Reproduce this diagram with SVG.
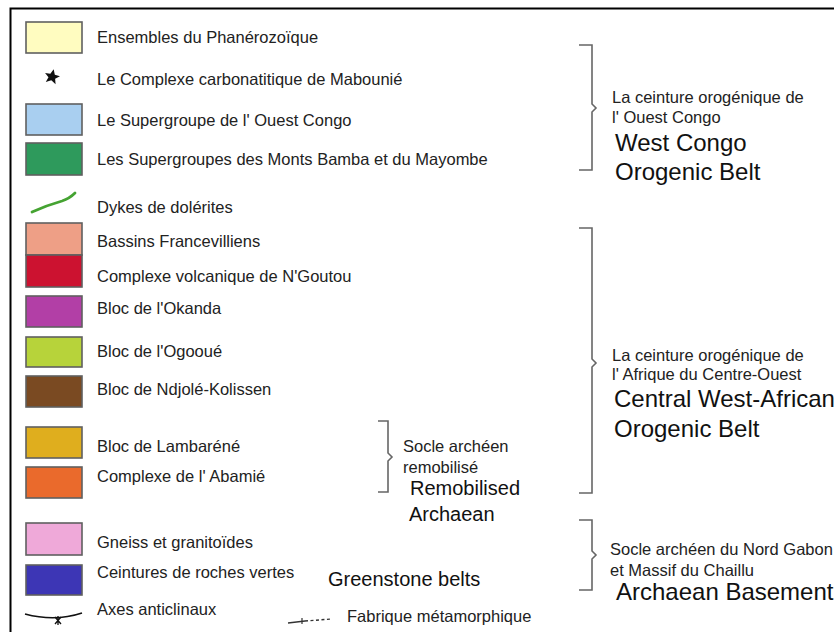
<svg xmlns="http://www.w3.org/2000/svg" width="834" height="632" viewBox="0 0 834 632">
<style>
.sw{stroke:#606060;stroke-width:1.6}
.t{font-family:"Liberation Sans",Arial,sans-serif;font-size:16.5px;fill:#222}
.big{font-family:"Liberation Sans",Arial,sans-serif;font-size:24px;fill:#111}
.mid{font-family:"Liberation Sans",Arial,sans-serif;font-size:20px;fill:#111}
.br{fill:none;stroke:#666;stroke-width:1.6}
</style>
<rect width="834" height="632" fill="#fff"/>
<path d="M10.5,632 V8.5 H834" fill="none" stroke="#000" stroke-width="2"/>

<g id="phanerozoique"><rect class="sw" x="26" y="22" width="56" height="31" fill="#fffcc0"/><text class="t" x="97" y="43">Ensembles du Phanérozoïque</text></g>
<g id="mabounie"><path d="M52,69 L54.3,74.2 L59.6,74.5 L55.4,78 L57,83.3 L52,80.4 L47,83.3 L48.6,78 L44.4,74.5 L49.7,74.2 Z" fill="#111" transform="rotate(12 52 77)"/><text class="t" x="97" y="85">Le Complexe carbonatitique de Mabounié</text></g>
<g id="ouest-congo"><rect class="sw" x="26" y="104" width="56" height="31" fill="#a9cff0"/><text class="t" x="97" y="126">Le Supergroupe de l' Ouest Congo</text></g>
<g id="bamba-mayombe"><rect class="sw" x="26" y="143" width="56" height="32" fill="#2e9a5c"/><text class="t" x="97" y="165">Les Supergroupes des Monts Bamba et du Mayombe</text></g>
<g id="dykes"><path d="M32,212 C45,206 55,203 62,201 C68,199 72,196 75,193" fill="none" stroke="#45a332" stroke-width="2.8" stroke-linecap="round"/><text class="t" x="97" y="213">Dykes de dolérites</text></g>
<g id="francevilliens"><rect class="sw" x="26" y="223" width="56" height="32" fill="#ee9f86"/><text class="t" x="97" y="247">Bassins Francevilliens</text></g>
<g id="ngoutou"><rect class="sw" x="26" y="255" width="56" height="32" fill="#cc1230"/><text class="t" x="97" y="282">Complexe volcanique de N'Goutou</text></g>
<g id="okanda"><rect class="sw" x="26" y="296" width="56" height="31" fill="#b23fa6"/><text class="t" x="97" y="314">Bloc de l'Okanda</text></g>
<g id="ogooue"><rect class="sw" x="26" y="337" width="56" height="30" fill="#b7d33a"/><text class="t" x="97" y="357">Bloc de l'Ogooué</text></g>
<g id="ndjole"><rect class="sw" x="26" y="376" width="56" height="31" fill="#7a4a22"/><text class="t" x="97" y="395">Bloc de Ndjolé-Kolissen</text></g>
<g id="lambarene"><rect class="sw" x="26" y="427" width="56" height="31" fill="#dfae1e"/><text class="t" x="97" y="452">Bloc de Lambaréné</text></g>
<g id="abamie"><rect class="sw" x="26" y="467" width="56" height="31" fill="#ea6a2c"/><text class="t" x="97" y="482">Complexe de l' Abamié</text></g>
<g id="gneiss"><rect class="sw" x="26" y="523" width="56" height="32" fill="#efa9d9"/><text class="t" x="97" y="548">Gneiss et granitoïdes</text></g>
<g id="roches-vertes"><rect class="sw" x="26" y="565" width="56" height="30" fill="#3d36b5"/><text class="t" x="97" y="578">Ceintures de roches vertes</text><text class="mid" x="328" y="586">Greenstone belts</text></g>
<g id="anticlinaux"><path d="M25,614 Q55,622 82,613" fill="none" stroke="#111" stroke-width="1.6"/><path d="M55,617 L61,624 M61,617 L55,624 M58,616 V625" stroke="#111" stroke-width="1.3"/><text class="t" x="97" y="615">Axes anticlinaux</text></g>
<g id="fabrique"><path d="M288,623 L305,621" stroke="#333" stroke-width="1.4" fill="none"/><path d="M305,621 L332,619" stroke="#333" stroke-width="1.4" stroke-dasharray="3,2.5" fill="none"/><path d="M302,618 V624" stroke="#333" stroke-width="1.2"/><text class="t" x="347" y="622">Fabrique métamorphique</text></g>

<g id="connectors">
<path class="br" d="M579,45 H592 V104 L596,108 L592,112 V170 H579"/>
<path class="br" d="M579,228 H592 V359 L596,363 L592,367 V493 H579"/>
<path class="br" d="M579,520 H592 V551 L596,555 L592,559 V590 H579"/>
<path class="br" d="M378,421 H388 V453 L392,457 L388,461 V492 H378"/>
</g>

<g id="west-congo"><text class="t" x="612" y="103">La ceinture orogénique de</text><text class="t" x="612" y="123">l' Ouest Congo</text><text class="big" x="615" y="151">West Congo</text><text class="big" x="615" y="180">Orogenic Belt</text></g>
<g id="central-west-african"><text class="t" x="612" y="361">La ceinture orogénique de</text><text class="t" x="612" y="380">l' Afrique du Centre-Ouest</text><text class="big" x="614" y="407">Central West-African</text><text class="big" x="614" y="437">Orogenic Belt</text></g>
<g id="archaean-basement"><text class="t" x="610" y="555">Socle archéen du Nord Gabon</text><text class="t" x="610" y="576">et Massif du Chaillu</text><text class="big" x="616" y="600">Archaean Basement</text></g>
<g id="remobilised"><text class="t" x="403" y="452">Socle archéen</text><text class="t" x="403" y="473">remobilisé</text><text class="mid" x="410" y="495">Remobilised</text><text class="mid" x="409" y="521">Archaean</text></g>
</svg>
